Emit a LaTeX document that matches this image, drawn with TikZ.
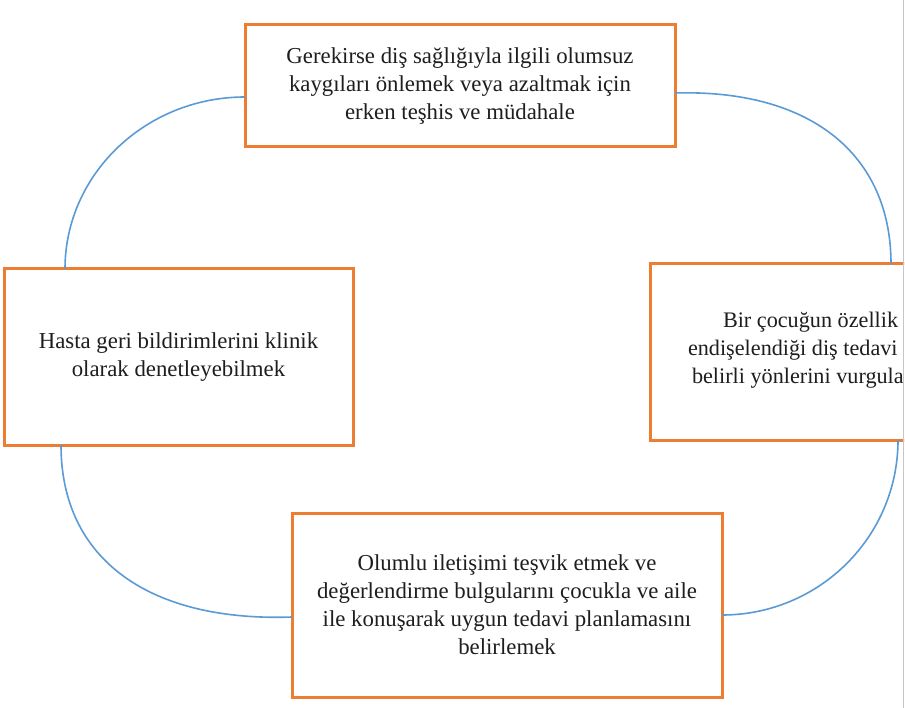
\documentclass[tikz,border=0pt]{standalone}
\usepackage{fontspec}
\setmainfont{Liberation Serif}
\usetikzlibrary{calc}
\definecolor{boxorange}{HTML}{ED7D31}
\definecolor{connblue}{HTML}{5B9BD5}
\definecolor{txtgray}{HTML}{1E1E1E}
\tikzset{
  box/.style={draw=boxorange, line width=3pt, fill=white, outer sep=0pt, inner sep=0pt,
    align=center, text=txtgray, font=\fontsize{22.8}{28}\selectfont},
  conn/.style={draw=connblue, line width=1.6pt},
  plaintext/.style={inner sep=0pt, outer sep=0pt, align=left, text=txtgray,
    font=\fontsize{22.2}{28}\selectfont}
}
\begin{document}
\begin{tikzpicture}[x=1pt,y=-1pt]
\useasboundingbox (0,0) rectangle (905,708);
\fill[white] (0,0) rectangle (905,708);
\begin{scope}
\clip (0,0) rectangle (904,708);
% boxes
\node[box, minimum width=430pt, minimum height=122pt] (nTop) at (460,86)
  {Gerekirse diş sağlığıyla ilgili olumsuz\\kaygıları önlemek veya azaltmak için\\erken teşhis ve müdahale};
\node[box, minimum width=349pt, minimum height=176pt] (nLeft) at (178.5,357)
  {Hasta geri bildirimlerini klinik\\olarak denetleyebilmek};
\node[box, minimum width=349pt, minimum height=176pt] (nRight) at (824.5,352) {};
\node[plaintext, anchor=west] (nRightText) at (688,350.5)
  {\hspace*{35pt}Bir çocuğun özellik\\endişelendiği diş tedavi\\\hspace*{4pt}belirli yönlerini vurgula};
\node[box, minimum width=430pt, minimum height=184pt] (nBottom) at (507,605)
  {Olumlu iletişimi teşvik etmek ve\\değerlendirme bulgularını çocukla ve aile\\ile konuşarak uygun tedavi planlamasını\\belirlemek};
% connectors
\draw[conn] ([yshift=-11pt]nTop.west) .. controls +(-99,0) and +(0,-95) .. ([xshift=61pt]nLeft.north west);
\draw[conn] ([yshift=-7pt]nTop.east) .. controls +(135,-4) and +(0,-110) .. ([xshift=241pt]nRight.north west);
\draw[conn] ([xshift=57pt]nLeft.south west) .. controls +(0,115) and +(-142,5) .. ([yshift=-12pt]nBottom.west);
\draw[conn] ([xshift=248pt]nRight.south west) .. controls +(0,97) and +(97,0) .. ([yshift=-10pt]nBottom.east);
\end{scope}
% page edge line
\draw[gray!45, line width=1.2pt] (903.6,0) -- (903.6,708);
\end{tikzpicture}
\end{document}
